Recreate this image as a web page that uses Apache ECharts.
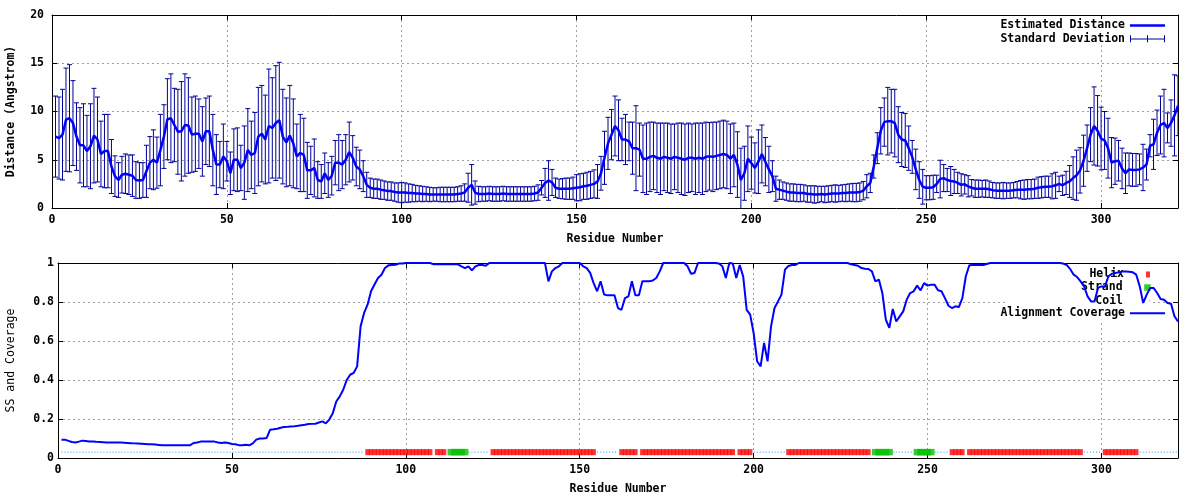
<!DOCTYPE html>
<html>
<head>
<meta charset="utf-8">
<script src="https://cdn.jsdelivr.net/npm/echarts@6/dist/echarts.min.js"></script>
<style>html,body{margin:0;padding:0;background:#fff}#chart{width:1200px;height:500px}</style>
</head>
<body>
<div id="chart"></div>
<script>
// ---------------- DATA ----------------
const firstResidue = 1;
const xMax = 322;
const xTicks = [0, 50, 100, 150, 200, 250, 300];
const yTicksTop = [0, 5, 10, 15, 20];
const yTicksBottom = [0, 0.2, 0.4, 0.6, 0.8, 1];

// Estimated distance (Angstrom), residues 1..322
const meanDist = [
  7.4,7.25,7.6,9.15,9.3,8.8,7.4,6.5,6.5,5.9,
  6.4,7.5,7.1,5.6,5.9,5.9,4.3,3.3,2.9,3.45,
  3.55,3.45,3.35,2.9,2.85,2.9,3.8,4.7,5.0,4.7,
  6.0,7.4,9.2,9.3,8.6,7.9,7.95,8.6,8.55,7.6,
  7.7,7.7,6.9,7.95,7.95,6.0,4.5,4.5,5.35,4.85,
  3.6,5.0,5.0,4.15,4.7,6.0,5.5,5.7,7.4,7.7,
  7.1,8.5,8.3,8.8,9.1,7.4,6.8,7.5,6.7,5.35,
  5.7,5.5,3.9,3.9,4.15,2.9,2.75,3.6,2.9,3.35,
  4.7,4.7,4.5,5.0,5.8,5.2,4.3,4.0,3.3,2.4,
  2.1,2.0,2.0,1.9,1.85,1.75,1.75,1.65,1.6,1.6,
  1.6,1.55,1.55,1.5,1.5,1.45,1.45,1.4,1.4,1.4,
  1.4,1.4,1.4,1.4,1.4,1.45,1.5,1.6,2.1,2.4,
  1.6,1.45,1.45,1.45,1.5,1.45,1.45,1.45,1.5,1.45,
  1.45,1.45,1.45,1.45,1.45,1.45,1.45,1.5,1.6,2.1,
  2.6,2.85,2.65,2.1,2.0,2.0,2.0,2.0,2.05,2.1,
  2.15,2.25,2.3,2.4,2.5,2.75,3.6,5.2,6.7,7.6,
  8.5,8.05,7.1,7.1,6.9,6.2,6.2,6.05,5.1,5.1,
  5.3,5.4,5.2,5.1,5.3,5.2,5.1,5.3,5.2,5.1,
  5.0,5.2,5.2,5.1,5.2,5.1,5.3,5.35,5.3,5.4,
  5.5,5.6,5.5,5.1,5.5,4.5,2.9,3.6,5.1,4.65,
  4.15,4.8,5.6,4.8,4.0,3.3,2.0,1.9,1.8,1.7,
  1.6,1.6,1.55,1.55,1.55,1.45,1.45,1.4,1.4,1.45,
  1.4,1.45,1.5,1.5,1.5,1.55,1.55,1.6,1.6,1.6,
  1.65,1.8,2.25,2.6,4.3,6.2,8.0,8.9,9.0,9.0,
  8.8,7.6,7.1,7.0,6.2,5.3,4.0,2.9,2.2,2.1,
  2.1,2.15,2.5,3.0,3.1,2.9,2.8,2.75,2.6,2.4,
  2.45,2.25,2.1,2.0,2.0,2.0,2.0,1.95,1.85,1.8,
  1.8,1.8,1.8,1.8,1.85,1.9,1.9,1.9,1.95,1.95,
  2.0,2.1,2.15,2.2,2.2,2.25,2.35,2.5,2.35,2.6,
  2.75,3.1,3.4,3.9,4.9,6.2,7.6,8.5,8.0,7.2,
  7.0,6.2,4.7,4.85,4.9,4.1,3.6,4.0,3.95,3.95,
  4.0,4.2,4.5,6.45,6.6,7.8,8.6,8.8,8.3,8.8,
  9.6,10.6
];

// Standard deviation of the distance, residues 1..322
const stdDist = [
  4.2,4.25,4.7,5.35,5.55,4.4,3.5,3.9,4.3,3.7,
  4.4,4.9,4.4,3.4,3.8,3.8,2.8,2.1,1.8,1.9,
  2.05,2.05,2.15,1.9,1.85,1.8,2.7,2.7,3.1,2.65,
  3.7,3.3,4.2,4.6,3.8,4.4,5.15,5.3,4.95,3.9,
  3.9,3.6,3.6,3.45,3.65,3.7,3.1,2.4,3.35,2.05,
  2.2,3.2,3.3,2.35,3.8,4.3,3.5,4.2,5.1,5.0,
  4.6,5.9,5.2,5.95,6.0,4.9,4.6,5.2,4.6,3.35,
  4.0,3.8,2.9,2.5,3.0,1.9,1.75,2.1,1.8,2.0,
  2.3,2.9,2.5,2.6,3.1,2.3,2.0,2.0,1.6,1.3,
  1.0,1.0,1.0,1.0,0.95,0.95,0.95,0.95,1.0,1.05,
  1.0,0.95,0.9,0.85,0.8,0.8,0.75,0.75,0.7,0.7,
  0.75,0.75,0.75,0.75,0.75,0.75,0.8,0.9,1.5,2.1,
  1.2,0.8,0.75,0.75,0.75,0.75,0.75,0.75,0.75,0.75,
  0.75,0.75,0.75,0.75,0.75,0.75,0.75,0.75,0.8,0.75,
  1.5,2.05,1.35,1.0,1.0,1.05,1.1,1.1,1.15,1.35,
  1.4,1.35,1.4,1.4,1.45,1.75,1.75,2.75,2.7,2.6,
  3.1,3.15,2.2,2.6,2.0,2.7,4.4,2.75,3.5,3.7,
  3.6,3.5,3.6,3.7,3.5,3.6,3.6,3.4,3.6,3.7,
  3.7,3.6,3.5,3.7,3.6,3.7,3.6,3.5,3.6,3.5,
  3.5,3.5,3.5,3.6,3.3,3.4,3.3,2.8,3.4,2.7,
  2.6,3.3,3.0,2.5,2.4,1.6,1.3,1.0,0.9,0.9,
  0.9,0.9,0.9,0.9,0.85,0.85,0.85,0.9,0.85,0.8,
  0.85,0.85,0.85,0.9,0.85,0.85,0.9,0.9,0.95,0.95,
  0.95,0.95,1.2,1.0,1.2,1.6,2.4,2.5,3.5,3.3,
  3.5,2.9,2.8,2.8,2.3,1.7,2.1,1.9,1.8,1.25,
  1.25,1.25,0.9,1.95,1.4,1.2,1.5,1.25,1.1,1.15,
  1.0,1.1,0.85,0.9,0.9,0.85,0.9,0.85,0.8,0.8,
  0.8,0.85,0.8,0.8,0.8,0.85,0.95,1.0,1.0,1.0,
  1.0,1.1,1.1,1.1,1.1,1.3,1.35,0.8,1.05,1.2,
  1.65,2.2,2.6,2.35,2.65,2.4,2.8,4.05,3.65,3.25,
  3.0,3.1,2.6,2.4,2.1,2.1,2.1,1.7,1.7,1.7,
  1.6,2.4,1.6,1.15,2.6,2.35,3.0,3.5,1.55,2.4,
  4.2,3.1
];

// Alignment coverage, residues 1..322
const coverage = [
  0.094,0.094,0.088,0.082,0.08,0.084,0.089,0.087,0.085,0.085,
  0.083,0.082,0.081,0.08,0.08,0.08,0.08,0.079,0.078,0.077,
  0.076,0.075,0.074,0.073,0.072,0.071,0.07,0.069,0.067,0.065,
  0.065,0.065,0.065,0.065,0.065,0.065,0.065,0.066,0.077,0.08,
  0.084,0.085,0.085,0.085,0.084,0.08,0.077,0.08,0.077,0.072,
  0.07,0.066,0.065,0.068,0.065,0.075,0.094,0.1,0.1,0.103,
  0.145,0.147,0.15,0.155,0.159,0.16,0.162,0.163,0.165,0.168,
  0.17,0.174,0.175,0.176,0.182,0.188,0.178,0.197,0.23,0.29,
  0.316,0.35,0.4,0.427,0.436,0.47,0.675,0.744,0.786,0.855,
  0.89,0.923,0.94,0.974,0.988,0.99,0.991,0.997,0.997,1,
  1,1,1,1,1,1,1,0.993,0.993,0.993,
  0.993,0.993,0.993,0.993,0.993,0.983,0.974,0.983,0.962,0.983,
  0.99,0.99,0.986,1,1,1,1,1,1,1,
  1,1,1,1,1,1,1,1,1,1,
  0.906,0.957,0.974,0.983,1,1,1,1,1,1,
  0.983,0.974,0.949,0.897,0.855,0.906,0.838,0.834,0.834,0.834,
  0.769,0.76,0.82,0.829,0.906,0.834,0.834,0.906,0.906,0.906,
  0.91,0.923,0.957,1,1,1,1,1,1,1,
  0.983,0.945,0.949,1,1,1,1,1,1,0.997,
  0.983,0.923,1,0.997,0.923,0.99,0.93,0.76,0.735,0.64,
  0.496,0.47,0.59,0.496,0.675,0.769,0.803,0.838,0.966,0.985,
  0.99,0.99,1,1,1,1,1,1,1,1,
  1,1,1,1,1,1,1,0.993,0.99,0.986,
  0.974,0.971,0.969,0.957,0.906,0.915,0.846,0.71,0.667,0.764,
  0.70,0.726,0.752,0.812,0.846,0.855,0.884,0.86,0.897,0.884,
  0.889,0.889,0.86,0.855,0.82,0.781,0.769,0.778,0.774,0.82,
  0.932,0.988,0.99,0.99,0.99,0.99,0.995,1,1,1,
  1,1,1,1,1,1,1,1,1,1,
  1,1,1,1,1,1,1,1,0.997,0.99,
  0.969,0.94,0.928,0.906,0.88,0.829,0.803,0.803,0.872,0.88,
  0.88,0.932,0.945,0.949,0.952,0.957,0.957,0.955,0.952,0.94,
  0.88,0.795,0.838,0.872,0.872,0.846,0.815,0.812,0.795,0.791,
  0.726,0.70
];

// Secondary structure segments (residue ranges, inclusive)
const helixRanges  = [[89,107],[109,111],[125,154],[162,166],[168,194],[196,199],[210,233],[257,260],[262,294],[301,310]];
const strandRanges = [[113,117],[235,239],[247,251]];
const ssLevel = 0.03;   // value at which the SS track is plotted

// ---------------- BUILD ----------------
const FONT = '"DejaVu Sans Mono", "Liberation Mono", monospace';
const FS = 11.5;

function inRanges(r, ranges) { return ranges.some(([a, b]) => r >= a && r <= b); }
const residueNums = meanDist.map((_, i) => firstResidue + i);

const distLine = residueNums.map((r, i) => [r, meanDist[i]]);
const errData = residueNums.map((r, i) => [r, meanDist[i], stdDist[i]]);
const covLine = residueNums.map((r, i) => [r, coverage[i]]);
const helixPts = residueNums.filter(r => inRanges(r, helixRanges)).map(r => [r, ssLevel]);
const strandPts = residueNums.filter(r => inRanges(r, strandRanges)).map(r => [r, ssLevel]);
const coilPts = residueNums.map(r => (inRanges(r, helixRanges) || inRanges(r, strandRanges)) ? [r, null] : [r, ssLevel]);

function near(list, v) { return list.some(t => Math.abs(t - v) < 1e-9); }

function xAxis(grid, pos, main, name) {
  return {
    type: 'value', gridIndex: grid, position: pos, min: 0, max: xMax, interval: 50,
    name: main ? name : '', nameLocation: 'middle', nameGap: 25,
    nameTextStyle: { fontFamily: FONT, fontSize: FS, fontWeight: 'bold', color: '#000' },
    axisLine: { show: true, onZero: false, lineStyle: { color: '#000', width: 1 } },
    axisTick: { show: true, inside: true, length: 5, lineStyle: { color: '#000', width: 1 } },
    axisLabel: { show: main, margin: 6, fontFamily: FONT, fontSize: FS, fontWeight: 'bold', color: '#000',
      formatter: v => near(xTicks, v) ? String(v) : '' },
    splitLine: { show: main, lineStyle: { color: '#a0a0a0', width: 1, type: [2, 3] } }
  };
}
function yAxis(grid, pos, main, name, min, max, interval, ticks, margin, gap, bold) {
  return {
    type: 'value', gridIndex: grid, position: pos, min: min, max: max, interval: interval,
    name: main ? name : '', nameLocation: 'middle', nameRotate: 90, nameGap: gap,
    nameTextStyle: { fontFamily: FONT, fontSize: FS, fontWeight: bold ? 'bold' : 'normal', color: '#000' },
    axisLine: { show: true, onZero: false, lineStyle: { color: '#000', width: 1 } },
    axisTick: { show: true, inside: true, length: 5, lineStyle: { color: '#000', width: 1 } },
    axisLabel: { show: main, margin: margin, fontFamily: FONT, fontSize: FS, fontWeight: 'bold', color: '#000',
      formatter: v => near(ticks, v) ? String(+v.toFixed(2)) : '' },
    splitLine: { show: main, lineStyle: { color: '#a0a0a0', width: 1, type: [2, 3] } }
  };
}

function renderErrorBar(params, api) {
  const x = api.value(0), m = api.value(1), s = api.value(2);
  const pTop = api.coord([x, m + s]);
  const pBot = api.coord([x, m - s]);
  const cw = 2.5;
  const st = { stroke: '#00009a', lineWidth: 1 };
  return {
    type: 'group',
    children: [
      { type: 'line', shape: { x1: pTop[0], y1: pTop[1], x2: pBot[0], y2: pBot[1] }, style: st },
      { type: 'line', shape: { x1: pTop[0] - cw, y1: pTop[1], x2: pTop[0] + cw, y2: pTop[1] }, style: st },
      { type: 'line', shape: { x1: pBot[0] - cw, y1: pBot[1], x2: pBot[0] + cw, y2: pBot[1] }, style: st }
    ]
  };
}

const legendText = { fontFamily: FONT, fontSize: FS, fontWeight: 'bold', color: '#000', lineHeight: 13 };
function legendItem(name, icon, w, h, right, top, padRight, padLeft, padTop) {
  return {
    orient: 'vertical', align: 'right', right: right, top: top,
    padding: [padTop || 0, 0, 0, padLeft], itemGap: 0, itemWidth: w, itemHeight: h,
    backgroundColor: '#ffffff', z: 1, selectedMode: false,
    data: [{ name: name, icon: icon }],
    textStyle: Object.assign({}, legendText, { padding: [0, padRight, 0, 0] })
  };
}

const errIcon = 'path://M0,3.6h35v1h-35z M0,0.5h1v7h-1z M17,0.5h1v7h-1z M34,0.5h1v7h-1z';

const option = {
  animation: false,
  backgroundColor: '#ffffff',
  grid: [
    { left: 52, right: 22, top: 15, height: 193, outerBoundsMode: 'none', containLabel: false },
    { left: 58, right: 22, top: 263, height: 195, outerBoundsMode: 'none', containLabel: false }
  ],
  xAxis: [
    xAxis(0, 'bottom', true, 'Residue Number'),
    xAxis(0, 'top', false, ''),
    xAxis(1, 'bottom', true, 'Residue Number'),
    xAxis(1, 'top', false, '')
  ],
  yAxis: [
    yAxis(0, 'left', true, 'Distance (Angstrom)', 0, 20, 5, yTicksTop, 8, 35, true),
    yAxis(0, 'right', false, '', 0, 20, 5, yTicksTop, 8, 35, true),
    yAxis(1, 'left', true, 'SS and Coverage', 0, 1, 0.2, yTicksBottom, 4, 41, false),
    yAxis(1, 'right', false, '', 0, 1, 0.2, yTicksBottom, 4, 41, false)
  ],
  legend: [
    {
      orient: 'vertical', align: 'right', right: 35, top: 19, padding: [0, 0, 0, 0],
      itemGap: 0.3, itemWidth: 35, itemHeight: 13, backgroundColor: '#ffffff', z: 1, selectedMode: false,
      data: [
        { name: 'Estimated Distance', icon: 'path://M0,0h35v2.6h-35z' },
        { name: 'Standard Deviation', icon: errIcon }
      ],
      textStyle: legendText
    },
    legendItem('Helix', 'rect', 4, 6, 50, 264, 17, 90, 4),
    legendItem('Strand', 'rect', 6.5, 6.5, 49.3, 281, 16.6, 90),
    legendItem('Coil', 'circle', 1, 1, 50, 294.2, 21, 90),
    legendItem('Alignment Coverage', 'path://M0,0h35v2h-35z', 35, 13, 35, 306.8, 0, 0)
  ],
  series: [
    {
      name: 'Standard Deviation', type: 'custom', xAxisIndex: 0, yAxisIndex: 0,
      data: errData, renderItem: renderErrorBar, encode: { x: 0, y: 1 },
      itemStyle: { color: '#00009a' }, z: 2, clip: true
    },
    {
      name: 'Estimated Distance', type: 'line', xAxisIndex: 0, yAxisIndex: 0,
      data: distLine, symbol: 'none', showSymbol: false,
      lineStyle: { color: '#0000ff', width: 2.5 }, itemStyle: { color: '#0000ff' }, z: 3
    },
    {
      name: 'Coil', type: 'line', xAxisIndex: 2, yAxisIndex: 2,
      data: coilPts, symbol: 'none', connectNulls: false,
      lineStyle: { color: '#1e90ff', width: 1, type: [1, 2] }, itemStyle: { color: '#1e90ff' }, z: 2
    },
    {
      name: 'Helix', type: 'scatter', xAxisIndex: 2, yAxisIndex: 2,
      data: helixPts, symbol: 'rect', symbolSize: [4.5, 6],
      itemStyle: { color: '#ff0000' }, z: 3, clip: false
    },
    {
      name: 'Strand', type: 'scatter', xAxisIndex: 2, yAxisIndex: 2,
      data: strandPts, symbol: 'rect', symbolSize: [7, 6.5],
      itemStyle: { color: '#00c000' }, z: 3, clip: false
    },
    {
      name: 'Alignment Coverage', type: 'line', xAxisIndex: 2, yAxisIndex: 2,
      data: covLine, symbol: 'none', showSymbol: false, clip: false,
      lineStyle: { color: '#0000ff', width: 2 }, itemStyle: { color: '#0000ff' }, z: 3
    }
  ]
};

const chart = echarts.init(document.getElementById('chart'), null, { renderer: 'canvas' });
chart.setOption(option);
</script>
</body>
</html>
